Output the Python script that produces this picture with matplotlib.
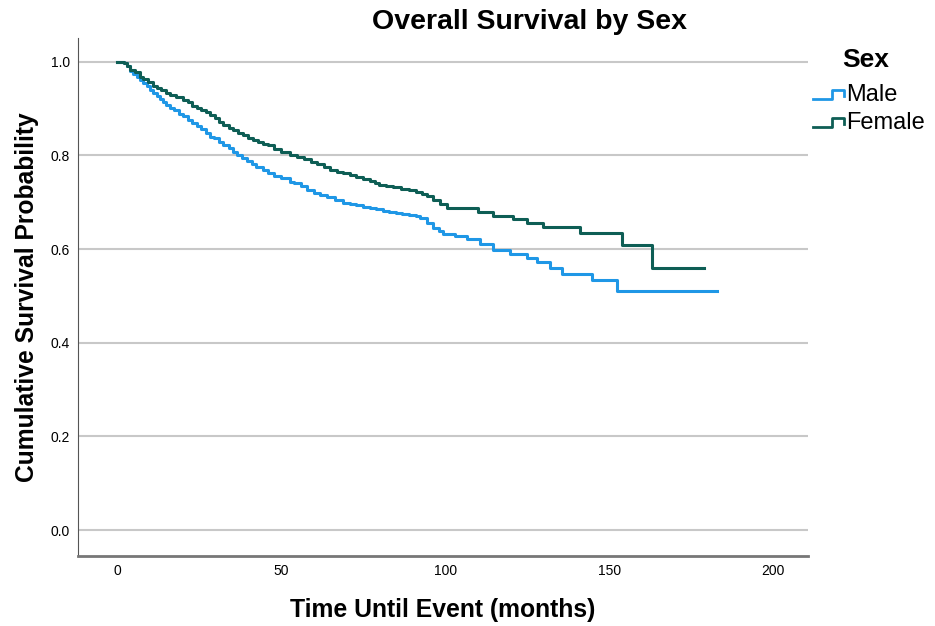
import matplotlib.pyplot as plt
from matplotlib.legend_handler import HandlerBase
from matplotlib.lines import Line2D

# Kaplan-Meier steps (months, survival)
male_t = [0, 2, 3, 4, 5, 6, 7, 8, 9, 10, 11, 12.1, 13, 14, 15, 16.2, 17.5, 19, 20.2, 21.5,
          23, 24.3, 25.5, 27, 28.4, 29.5, 31, 32.4, 34, 35.5, 36.5, 38, 39.5, 41, 42.5, 44.5,
          46, 48, 50, 52.7, 54, 56, 58, 60, 62, 64, 66.5, 69, 71, 73, 75, 77, 79, 81, 83, 85,
          87, 89, 91, 92.4, 94.5, 96.3, 98, 99.4, 103, 106.7, 110.7, 114.6, 119.8, 125,
          128, 132, 135.7, 144.8, 152.4, 183]
male_s = [1.0, 0.997, 0.990, 0.979, 0.973, 0.967, 0.961, 0.954, 0.947, 0.940, 0.933, 0.926,
          0.920, 0.914, 0.907, 0.901, 0.896, 0.889, 0.883, 0.876, 0.869, 0.862, 0.857, 0.848,
          0.840, 0.836, 0.829, 0.823, 0.815, 0.807, 0.801, 0.795, 0.788, 0.781, 0.775, 0.769,
          0.763, 0.756, 0.751, 0.744, 0.740, 0.735, 0.727, 0.720, 0.715, 0.710, 0.704, 0.699,
          0.696, 0.693, 0.690, 0.688, 0.685, 0.682, 0.680, 0.677, 0.675, 0.672, 0.670, 0.667,
          0.655, 0.645, 0.638, 0.632, 0.627, 0.622, 0.611, 0.598, 0.590, 0.581, 0.573,
          0.560, 0.547, 0.534, 0.511, 0.511]

female_t = [0, 2, 3, 4, 5.5, 7, 8, 9.5, 11, 12.1, 13.5, 15, 16.2, 18, 20.2, 21.5, 23, 24.3,
            25.5, 27, 28.4, 30, 31, 32.4, 34, 35.5, 37, 38.5, 40, 41.5, 43, 44.5, 46, 48, 50,
            52.7, 55, 57, 59, 61, 63, 65, 67, 69, 71, 73, 75, 77, 78.5, 80, 82, 84, 86.5, 89,
            91, 93, 94.5, 96.3, 98.5, 100.6, 110, 114.6, 120.7, 125, 130, 141, 154, 163, 179]
female_s = [1.0, 0.997, 0.990, 0.983, 0.977, 0.968, 0.962, 0.956, 0.949, 0.944, 0.939, 0.933,
            0.929, 0.925, 0.919, 0.913, 0.906, 0.901, 0.897, 0.892, 0.887, 0.879, 0.872, 0.865,
            0.858, 0.853, 0.848, 0.843, 0.838, 0.833, 0.829, 0.825, 0.821, 0.813, 0.808, 0.801,
            0.796, 0.792, 0.786, 0.781, 0.775, 0.769, 0.765, 0.762, 0.758, 0.754, 0.750, 0.746,
            0.741, 0.737, 0.734, 0.732, 0.729, 0.726, 0.722, 0.718, 0.714, 0.705, 0.697, 0.688,
            0.679, 0.671, 0.665, 0.656, 0.647, 0.635, 0.609, 0.560, 0.560]

x_ticks = [0, 50, 100, 150, 200]
y_ticks = [0.0, 0.2, 0.4, 0.6, 0.8, 1.0]

male_color = '#1f97e6'
female_color = '#0e5e55'

plt.rcParams['font.family'] = ['Liberation Sans', 'DejaVu Sans']


class StepHandler(HandlerBase):
    # legend glyph shaped like a small step, as SPSS draws it
    def create_artists(self, legend, orig, xd, yd, width, height, fontsize, trans):
        xs = [0, 0.62 * width, 0.62 * width, width, width]
        ys = [0.15 * height, 0.15 * height, 0.7 * height, 0.7 * height, 0.35 * height]
        ln = Line2D([x - xd for x in xs], [y - yd for y in ys], color=orig.get_color(),
                    lw=2, transform=trans)
        return [ln]


fig = plt.figure(figsize=(9.35, 6.26), dpi=100)
ax = fig.add_axes([0.0834, 0.112, 0.781, 0.827])

for yt in y_ticks:
    ax.axhline(yt, color='#c8c8c8', lw=1.5, zorder=0)

m, = ax.step(male_t, male_s, where='post', color=male_color, lw=2.2, label='Male')
f, = ax.step(female_t, female_s, where='post', color=female_color, lw=2.2, label='Female')

ax.set_xlim(-11.9, 210.7)
ax.set_ylim(-0.055, 1.05)
ax.set_xticks(x_ticks)
ax.set_yticks(y_ticks)
ax.set_yticklabels([f'{v:.1f}' for v in y_ticks])
ax.tick_params(length=0, labelsize=10, pad=6)
for s in ['top', 'right']:
    ax.spines[s].set_visible(False)
ax.spines['left'].set_color('#555555')
ax.spines['bottom'].set_color('#777777')
ax.spines['bottom'].set_linewidth(2)

fig.text(0.566, 0.965, 'Overall Survival by Sex', fontsize=20.5, fontweight='bold',
         ha='center', va='center')
ax.set_xlabel('Time Until Event (months)', fontsize=17.8, fontweight='bold', labelpad=14)
ax.set_ylabel('Cumulative Survival Probability', fontsize=17.7, fontweight='bold', labelpad=8)

# legend title drawn separately so the gap to the entries matches
fig.text(866 / 935, 1 - 60 / 626, 'Sex', fontsize=19, fontweight='bold',
         ha='center', va='center')
leg = fig.legend(handles=[m, f], loc='upper left', bbox_to_anchor=(0.857, 0.884),
                 frameon=False, fontsize=17, borderpad=0,
                 handler_map={Line2D: StepHandler()},
                 handlelength=1.3, handletextpad=0.1, labelspacing=0.25)

fig.savefig('out.png', dpi=100)
